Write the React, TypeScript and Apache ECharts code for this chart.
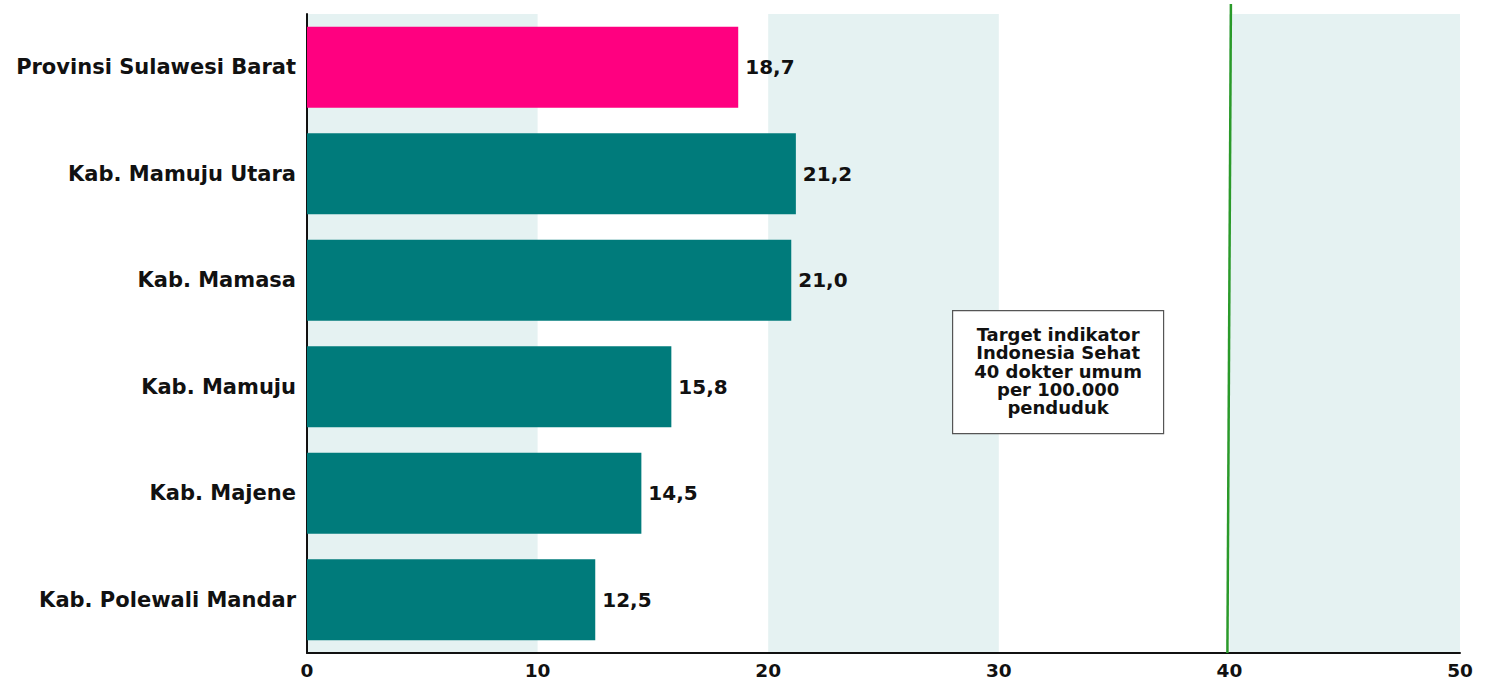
import React, { useEffect, useRef } from "react";
import * as echarts from "echarts";

const categories = [
  "Provinsi Sulawesi Barat",
  "Kab. Mamuju Utara",
  "Kab. Mamasa",
  "Kab. Mamuju",
  "Kab. Majene",
  "Kab. Polewali Mandar",
];
const values = [18.7, 21.2, 21.0, 15.8, 14.5, 12.5];
const highlightIndex = 0;
const targetValue = 40;
const annotationLines = [
  "Target indikator",
  "Indonesia Sehat",
  "40 dokter umum",
  "per 100.000",
  "penduduk",
];

const FONT = "'DejaVu Sans', Verdana, sans-serif";

export default function App() {
  const ref = useRef<HTMLDivElement>(null);
  useEffect(() => {
    document.body.style.margin = "0";
    if (!ref.current) return;
    const chart = echarts.init(ref.current, null, { renderer: "svg" });
    chart.setOption({
      animation: false,
      grid: { left: 307, right: 26, top: 14, bottom: 28, containLabel: false },
      xAxis: {
        type: "value",
        min: 0,
        max: 50,
        interval: 10,
        axisLine: { show: true, lineStyle: { color: "#111", width: 2 } },
        axisTick: { show: false },
        splitLine: { show: false },
        splitArea: {
          show: true,
          areaStyle: { color: ["#e5f2f2", "rgba(255,255,255,0)"] },
        },
        axisLabel: {
          fontFamily: FONT,
          fontWeight: "bold",
          fontSize: 18.5,
          color: "#111",
          margin: 8,
        },
      },
      yAxis: {
        type: "category",
        data: categories,
        inverse: true,
        axisLine: { show: true, lineStyle: { color: "#111", width: 2 } },
        axisTick: { show: false },
        axisLabel: {
          fontFamily: FONT,
          fontWeight: "bold",
          fontSize: 21,
          color: "#111",
          margin: 11,
        },
      },
      series: [
        {
          type: "bar",
          data: values.map((v, i) => ({
            value: v,
            itemStyle: { color: i === highlightIndex ? "#ff0080" : "#007b7b" },
          })),
          barCategoryGap: "24%",
          label: {
            show: true,
            position: "right",
            distance: 7,
            fontFamily: FONT,
            fontWeight: "bold",
            fontSize: 20,
            color: "#111",
            formatter: (p: any) => p.value.toFixed(1).replace(".", ","),
          },
        },
      ],
    });

    const top = chart.convertToPixel({ gridIndex: 0 }, [targetValue, categories[0]]);
    const bottom = chart.convertToPixel({ gridIndex: 0 }, [targetValue, categories[categories.length - 1]]);
    const gridBottom = 681 - 28;
    const lineH = 18.3;
    chart.setOption({
      graphic: [
        {
          type: "line",
          shape: { x1: top[0] + 1.5, y1: 4, x2: bottom[0] - 2, y2: gridBottom },
          style: { stroke: "#2a9a2a", lineWidth: 2.5 },
          z: 100,
        },
        {
          type: "group",
          left: 952,
          top: 310,
          children: [
            {
              type: "rect",
              shape: { x: 0, y: 0, width: 211, height: 123 },
              style: { fill: "#fff", stroke: "#555", lineWidth: 1.2 },
            },
            ...annotationLines.map((t, i) => ({
              type: "text",
              x: 105.5,
              y: 24 + i * lineH,
              style: {
                text: t,
                fontFamily: FONT,
                fontWeight: "bold",
                fontSize: 18,
                fill: "#111",
                align: "center",
                verticalAlign: "middle",
              },
            })),
          ],
        },
      ],
    });
    return () => chart.dispose();
  }, []);
  return <div ref={ref} style={{ width: 1486, height: 681 }} />;
}
